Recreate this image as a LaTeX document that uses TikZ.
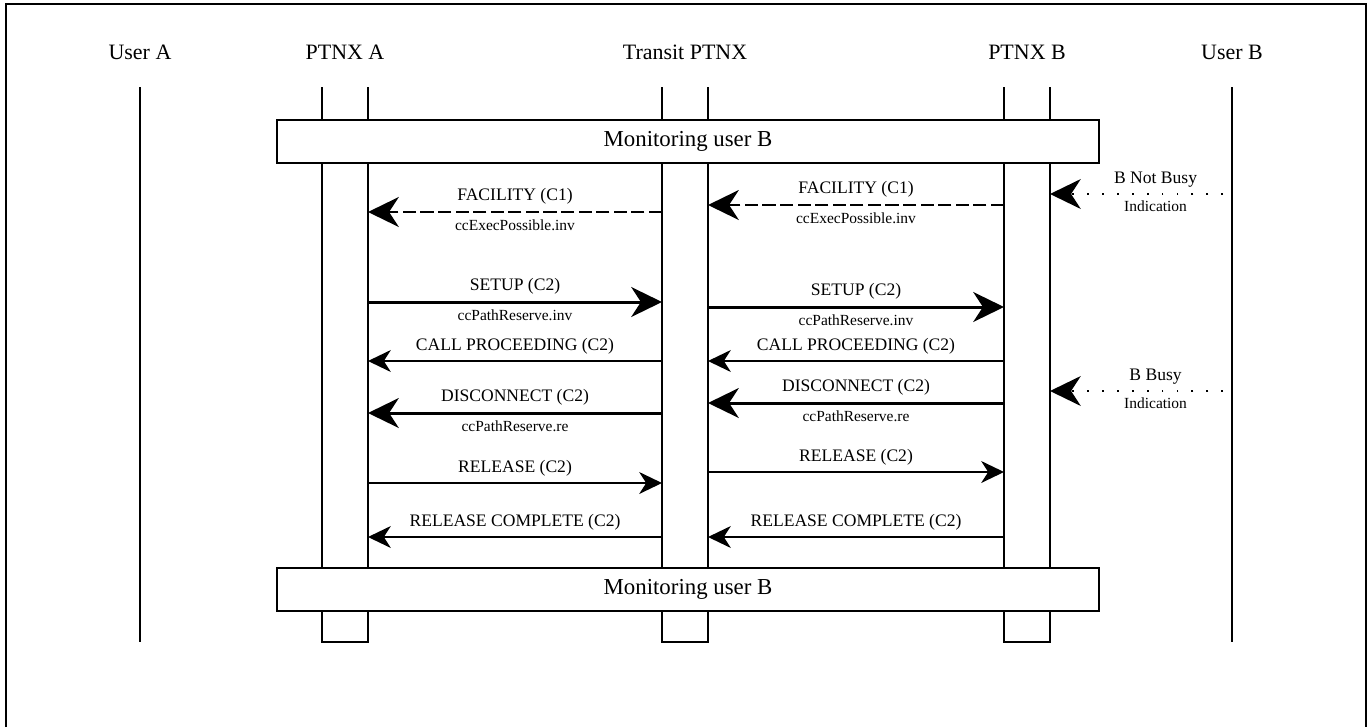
\documentclass[tikz,border=0pt]{standalone}
\usepackage{fontspec}
\setmainfont{Liberation Serif}
\usetikzlibrary{arrows.meta,positioning}
\tikzset{
  entity/.style  = {font=\fontsize{12.5}{14}\selectfont},
  monitor/.style = {draw, fill=white, line width=0.8pt, inner sep=0pt,
                    minimum width=16.44cm, minimum height=0.86cm,
                    font=\fontsize{13}{15}\selectfont},
  life/.style    = {line width=0.8pt},
  frame/.style   = {line width=1.2pt},
  msg/.style     = {font=\fontsize{10}{12}\selectfont},
  sub/.style     = {font=\fontsize{8.8}{10}\selectfont},
  big/.style     = {line width=1.7pt, -{Stealth[length=17.5pt,width=17pt,inset=5.5pt]}},
  small/.style   = {line width=0.75pt, -{Stealth[length=13pt,width=12.5pt,inset=4pt]}},
  dashmsg/.style = {big, dash pattern=on 7.5pt off 2.5pt},
  busy/.style    = {line width=1.1pt, dash pattern=on 1.1pt off 7.4pt, shorten <=5pt,
                    -{Stealth[length=17.5pt,width=17pt,inset=5.5pt]}}
}

\begin{document}
\begin{tikzpicture}[x=0.02cm, y=-0.02cm]
\useasboundingbox (0,0) rectangle (1368,727);

% outer frame, open at the bottom
\draw[frame] (6,727) |- (1366,4) -- (1366,727);

% entities
\node[entity] (ua-h) at (140,52)  {User A};
\node[entity] (pa-h) at (345,52)  {PTNX A};
\node[entity] (tr-h) at (685,52)  {Transit PTNX};
\node[entity] (pb-h) at (1027,52) {PTNX B};
\node[entity] (ub-h) at (1232,52) {User B};

% tops of the life lines
\coordinate (ua)   at (140,87);
\coordinate (ub)   at (1232,87);
\coordinate (pa-l) at (322,87);
\coordinate (pa-r) at (368,87);
\coordinate (tr-l) at (662,87);
\coordinate (tr-r) at (708,87);
\coordinate (pb-l) at (1004,87);
\coordinate (pb-r) at (1050,87);
\coordinate (bot)  at (0,642);

\foreach \n in {ua,ub}
  \draw[life] (\n) -- (\n |- bot);

\foreach \n in {pa,tr,pb}
  \draw[life] (\n-l) -- (\n-l |- bot) -- (\n-r |- bot) -- (\n-r);

% monitoring phases
\node[monitor] (mon-top) at (688,141.5) {Monitoring user B};
\node[monitor] (mon-bot) at (688,589.5) {Monitoring user B};

% B not busy
\draw[busy] (ub |- 0,194) -- node[msg, above, pos=.42] {B Not Busy}
  node[sub, below, pos=.42] {Indication} (pb-r |- 0,194);
\draw[dashmsg] (pb-l |- 0,205) -- node[msg, above] {FACILITY (C1)}
  node[sub, below] {ccExecPossible.inv} (tr-r |- 0,205);
\draw[dashmsg] (tr-l |- 0,212) -- node[msg, above] {FACILITY (C1)}
  node[sub, below] {ccExecPossible.inv} (pa-r |- 0,212);

% path reservation
\draw[big] (pa-r |- 0,302) -- node[msg, above] {SETUP (C2)}
  node[sub, below] {ccPathReserve.inv} (tr-l |- 0,302);
\draw[big] (tr-r |- 0,307) -- node[msg, above] {SETUP (C2)}
  node[sub, below] {ccPathReserve.inv} (pb-l |- 0,307);
\draw[small] (tr-l |- 0,361) -- node[msg, above] {CALL PROCEEDING (C2)} (pa-r |- 0,361);
\draw[small] (pb-l |- 0,361) -- node[msg, above] {CALL PROCEEDING (C2)} (tr-r |- 0,361);

% B busy
\draw[busy] (ub |- 0,391) -- node[msg, above, pos=.42] {B Busy}
  node[sub, below, pos=.42] {Indication} (pb-r |- 0,391);
\draw[big] (pb-l |- 0,403) -- node[msg, above] {DISCONNECT (C2)}
  node[sub, below] {ccPathReserve.re} (tr-r |- 0,403);
\draw[big] (tr-l |- 0,413) -- node[msg, above] {DISCONNECT (C2)}
  node[sub, below] {ccPathReserve.re} (pa-r |- 0,413);

% clearing
\draw[small] (pa-r |- 0,483) -- node[msg, above] {RELEASE (C2)} (tr-l |- 0,483);
\draw[small] (tr-r |- 0,472) -- node[msg, above] {RELEASE (C2)} (pb-l |- 0,472);
\draw[small] (tr-l |- 0,537) -- node[msg, above] {RELEASE COMPLETE (C2)} (pa-r |- 0,537);
\draw[small] (pb-l |- 0,537) -- node[msg, above] {RELEASE COMPLETE (C2)} (tr-r |- 0,537);
\end{tikzpicture}
\end{document}
